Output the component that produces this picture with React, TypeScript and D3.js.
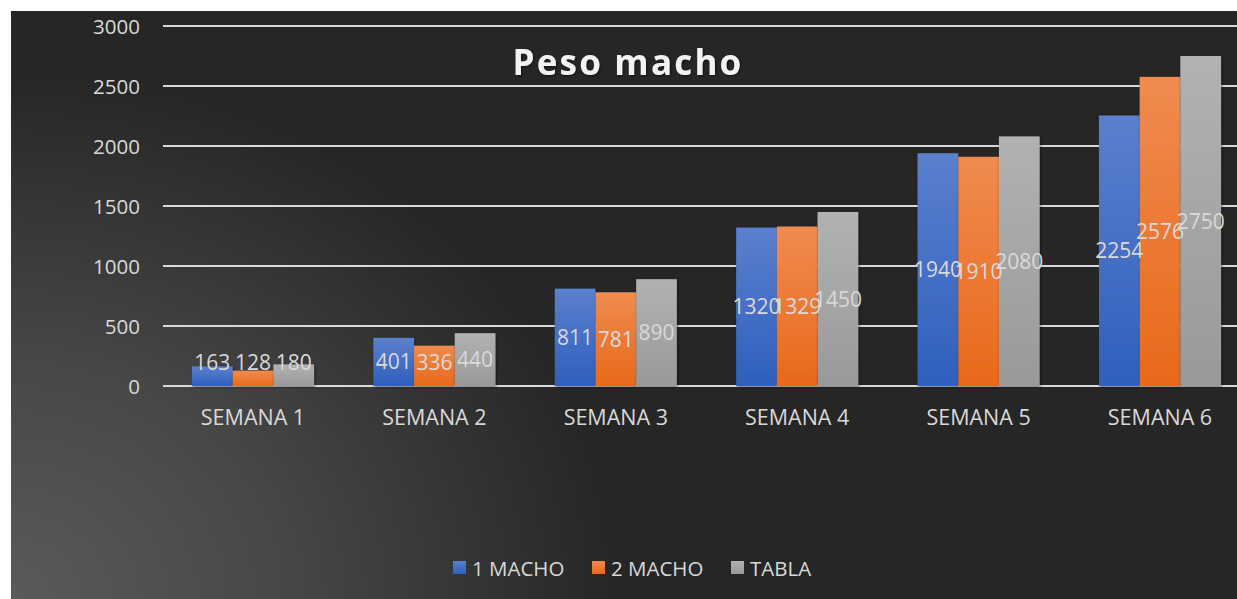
import React from "react";
import * as d3 from "d3";

const categories = ["SEMANA 1", "SEMANA 2", "SEMANA 3", "SEMANA 4", "SEMANA 5", "SEMANA 6"];
const seriesNames = ["1 MACHO", "2 MACHO", "TABLA"];
const macho1 = [163, 401, 811, 1320, 1940, 2254];
const macho2 = [128, 336, 781, 1329, 1910, 2576];
const tabla = [180, 440, 890, 1450, 2080, 2750];
const yTicks = [0, 500, 1000, 1500, 2000, 2500, 3000];

const seriesValues = [macho1, macho2, tabla];
const gradStops = [
  ["#5b80cd", "#2f5fbe"],
  ["#f08b50", "#e8691a"],
  ["#b2b2b2", "#999999"],
];

const W = 1237;
const H = 599;
const FONT = "'Open Sans', 'DejaVu Sans', sans-serif";
const TXT = "#d9d9d9";

export default function App() {
  const x = d3
    .scaleBand<string>()
    .domain(categories)
    .range([162.3, 1250.7])
    .paddingInner(0.327)
    .paddingOuter(0.1635);
  const xs = d3.scaleBand<number>().domain([0, 1, 2]).range([0, x.bandwidth()]);
  const y = d3.scaleLinear().domain([0, 3000]).range([386, 26]);

  const legendItems = [
    { x: 453, tx: 472 },
    { x: 592, tx: 611 },
    { x: 731, tx: 750 },
  ];

  return (
    <svg width={W} height={H} style={{ position: "absolute", left: 0, top: 0 }}>
      <defs>
        <radialGradient id="bg" cx="0" cy="1" r="0.9" gradientUnits="objectBoundingBox" gradientTransform="scale(0.55,1)">
          <stop offset="0" stopColor="#5a5a5a" />
          <stop offset="0.45" stopColor="#474747" />
          <stop offset="1" stopColor="#262626" />
        </radialGradient>
        {gradStops.map((g, i) => (
          <linearGradient key={i} id={`bar${i}`} x1="0" y1="0" x2="0" y2="1">
            <stop offset="0" stopColor={g[0]} />
            <stop offset="1" stopColor={g[1]} />
          </linearGradient>
        ))}
        <filter id="shadow" x="-20%" y="-20%" width="140%" height="140%">
          <feDropShadow dx="1" dy="1" stdDeviation="1.5" floodColor="#000" floodOpacity="0.5" />
        </filter>
        <filter id="tshadow" x="-10%" y="-20%" width="120%" height="140%">
          <feDropShadow dx="1" dy="1" stdDeviation="1" floodColor="#000" floodOpacity="0.6" />
        </filter>
      </defs>
      <rect x={0} y={0} width={W} height={H} fill="#ffffff" />
      <rect x={11} y={11} width={W - 11} height={H - 11} fill="#262626" />
      <rect x={11} y={11} width={W - 11} height={H - 11} fill="url(#bg)" />

      {yTicks.map((t) => (
        <g key={t}>
          <line x1={163} x2={W} y1={y(t)} y2={y(t)} stroke="#d9d9d9" strokeWidth={2} />
          <text x={140} y={y(t) + 7.5} textAnchor="end" fill={TXT} fontFamily={FONT} fontSize={20.5}>
            {t}
          </text>
        </g>
      ))}

      <text
        x={628}
        y={75}
        textAnchor="middle"
        fill="#f2f2f2"
        fontFamily={FONT}
        fontWeight="bold"
        fontSize={35}
        letterSpacing={2.2}
        filter="url(#tshadow)"
      >
        Peso macho
      </text>

      {categories.map((c, ci) => (
        <g key={c}>
          {seriesValues.map((vals, si) => {
            const bx = (x(c) as number) + (xs(si) as number);
            const v = vals[ci];
            return (
              <rect
                key={si}
                x={bx}
                y={y(v)}
                width={xs.bandwidth()}
                height={y(0) - y(v)}
                fill={`url(#bar${si})`}
                filter="url(#shadow)"
              />
            );
          })}
          {seriesValues.map((vals, si) => {
            const bx = (x(c) as number) + (xs(si) as number) + xs.bandwidth() / 2;
            const v = vals[ci];
            const cy = Math.min((y(v) + y(0)) / 2, 362);
            return (
              <text
                key={si}
                x={bx}
                y={cy + 7.5}
                textAnchor="middle"
                fill={TXT}
                fontFamily={FONT}
                fontSize={21}
              >
                {v}
              </text>
            );
          })}
          <text
            x={(x(c) as number) + x.bandwidth() / 2}
            y={425}
            textAnchor="middle"
            fill={TXT}
            fontFamily={FONT}
            fontSize={21.5}
          >
            {c}
          </text>
        </g>
      ))}

      {seriesNames.map((n, i) => (
        <g key={n}>
          <rect x={legendItems[i].x} y={561} width={13} height={13} fill={`url(#bar${i})`} />
          <text x={legendItems[i].tx} y={576} fill={TXT} fontFamily={FONT} fontSize={20.5}>
            {n}
          </text>
        </g>
      ))}
    </svg>
  );
}
